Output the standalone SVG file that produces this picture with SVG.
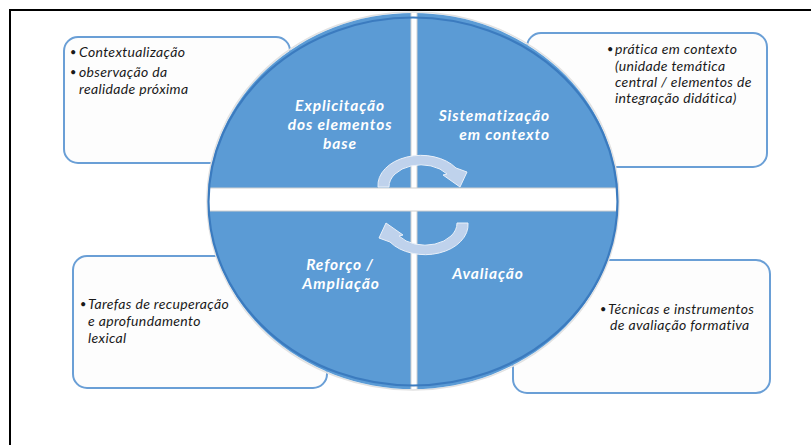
<svg xmlns="http://www.w3.org/2000/svg" xmlns:xlink="http://www.w3.org/1999/xlink" width="811" height="445" viewBox="0 0 811 445">
<style>
.box{fill:#fdfdfd;stroke:#6a9fd6;stroke-width:2}
.quad{fill:#5b9bd5}
.lbl{font-family:Lato,"Open Sans",sans-serif;font-weight:bold;font-style:italic;font-size:15.5px;letter-spacing:0.9px;fill:#ffffff}
.txt{font-family:Lato,"Open Sans",sans-serif;font-style:italic;font-size:14px;letter-spacing:0.35px;fill:#1a1a1a}
.bul{font-size:11px}
.arrow{fill:#bfd2ec;stroke:#e9f0f9;stroke-width:1}
</style>
<defs>
<clipPath id="ell"><ellipse cx="413" cy="201" rx="205" ry="188"/></clipPath>
<path id="arr" d="M378 187 A43 30 0 0 1 456 168 L467 172 L460 187 L443 175 L447 174 A32 22 0 0 0 389 187 Z"/>
</defs>
<rect x="0" y="0" width="811" height="445" fill="#ffffff"/>
<path d="M10 446 V10 H812" fill="none" stroke="#000000" stroke-width="2"/>

<g id="box-tl"><rect class="box" x="64" y="37" width="226" height="126" rx="14"/>
<text class="txt"><tspan class="bul" x="70" y="56">•</tspan><tspan x="79" y="57">Contextualização</tspan><tspan class="bul" x="70" y="76">•</tspan><tspan x="79" y="77">observação da</tspan><tspan x="79" y="94">realidade próxima</tspan></text></g>
<g id="box-tr"><rect class="box" x="527" y="33" width="240" height="134" rx="14"/>
<text class="txt"><tspan class="bul" x="607" y="53">•</tspan><tspan x="615" y="54">prática em contexto</tspan><tspan x="615" y="71">(unidade temática</tspan><tspan x="615" y="87">central / elementos de</tspan><tspan x="615" y="103">integração didática)</tspan></text></g>
<g id="box-bl"><rect class="box" x="73" y="256" width="254" height="132" rx="14"/>
<text class="txt"><tspan class="bul" x="80" y="308">•</tspan><tspan x="88" y="309">Tarefas de recuperação</tspan><tspan x="88" y="326">e aprofundamento</tspan><tspan x="88" y="343">lexical</tspan></text></g>
<g id="box-br"><rect class="box" x="513" y="260" width="257" height="133" rx="14"/>
<text class="txt"><tspan class="bul" x="600" y="313">•</tspan><tspan x="608" y="314">Técnicas e instrumentos</tspan><tspan x="610" y="330">de avaliação formativa</tspan></text></g>

<g id="cycle">
<ellipse cx="413" cy="201" rx="206" ry="189" fill="none" stroke="#e2e2e2" stroke-width="1.5"/>
<g clip-path="url(#ell)">
<rect x="200" y="5" width="430" height="395" fill="#ffffff"/>
<rect class="quad" x="200" y="5" width="211" height="183"/>
<rect class="quad" x="417" y="5" width="213" height="183"/>
<rect class="quad" x="200" y="211" width="211" height="190"/>
<rect class="quad" x="417" y="211" width="213" height="190"/>
<line x1="200" y1="188" x2="630" y2="188" stroke="#d0d0d0" stroke-width="1"/>
<line x1="200" y1="211" x2="630" y2="211" stroke="#d0d0d0" stroke-width="1"/>
<line x1="411" y1="5" x2="411" y2="188" stroke="#d0d0d0" stroke-width="1"/>
<line x1="417" y1="5" x2="417" y2="188" stroke="#d0d0d0" stroke-width="1"/>
<line x1="411" y1="211" x2="411" y2="400" stroke="#d0d0d0" stroke-width="1"/>
<line x1="417" y1="211" x2="417" y2="400" stroke="#d0d0d0" stroke-width="1"/>
</g>
<ellipse cx="413" cy="201.5" rx="204.5" ry="184" fill="none" stroke="#3b7bbf" stroke-width="2.2"/>
</g>

<g id="q-tl"><text class="lbl" text-anchor="middle"><tspan x="340" y="111">Explicitação</tspan><tspan x="340" y="130">dos elementos</tspan><tspan x="340" y="149">base</tspan></text></g>
<g id="q-tr"><text class="lbl" text-anchor="end"><tspan x="550" y="121">Sistematização</tspan><tspan x="550" y="140">em contexto</tspan></text></g>
<g id="q-bl"><text class="lbl" text-anchor="middle"><tspan x="340" y="270">Reforço /</tspan><tspan x="341" y="289">Ampliação</tspan></text></g>
<g id="q-br"><text class="lbl" text-anchor="middle"><tspan x="488" y="279">Avaliação</tspan></text></g>

<g id="connectors">
<use xlink:href="#arr" class="arrow"/>
<use xlink:href="#arr" class="arrow" transform="rotate(180 423 205)"/>
</g>
</svg>
